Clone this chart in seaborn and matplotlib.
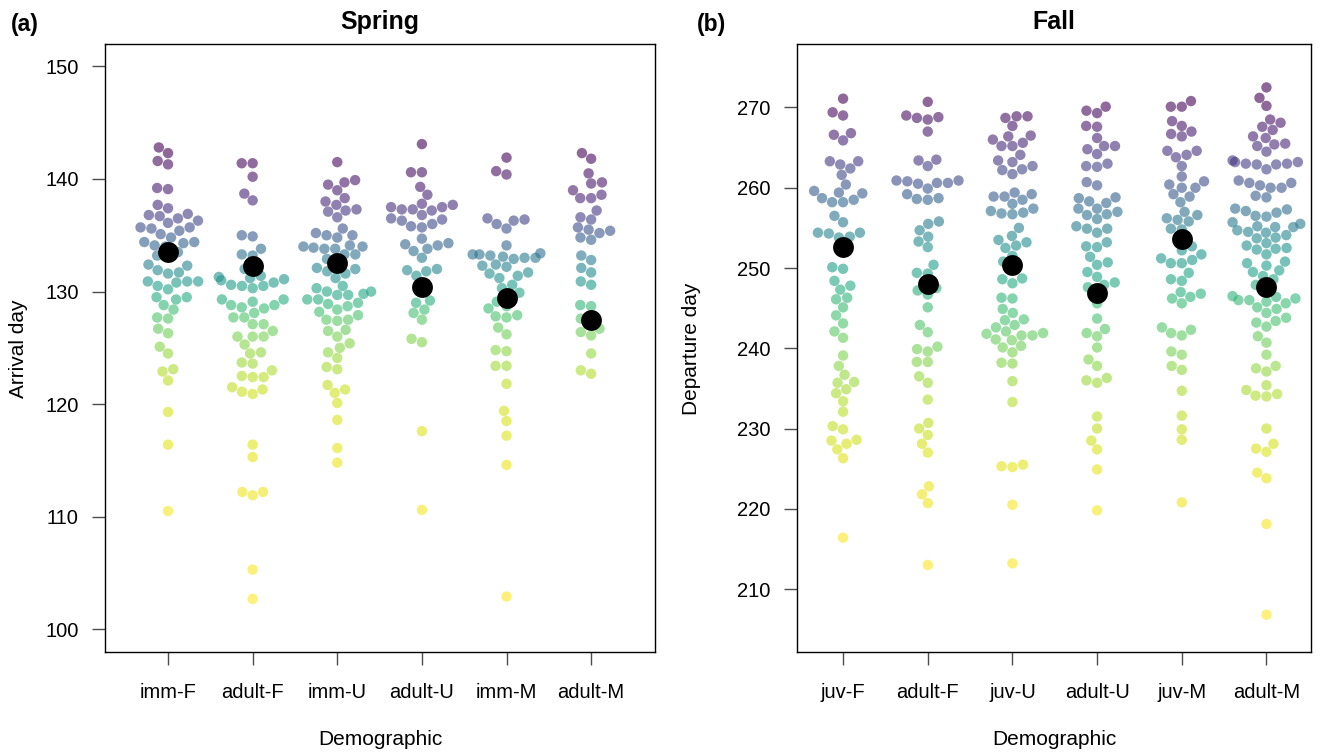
import numpy as np
import pandas as pd
import matplotlib.pyplot as plt
import seaborn as sns

# ---- data ----
spring_groups = ["imm-F", "adult-F", "imm-U", "adult-U", "imm-M", "adult-M"]
fall_groups = ["juv-F", "adult-F", "juv-U", "adult-U", "juv-M", "adult-M"]

spring_imm_F = [142.8, 142.3, 141.6, 141.3, 139.2, 139.1, 137.7, 137.4, 136.9, 136.7,
                136.5, 136.1, 136.3, 136.8, 135.7, 135.6, 135.4, 135.1, 135.7, 134.8,
                134.4, 134.4, 134.3, 134.0, 134.1, 133.5, 133.2, 133.1, 132.4, 132.3,
                131.9, 131.6, 131.7, 130.9, 130.9, 130.8, 130.2, 130.5, 130.9, 129.5,
                129.3, 129.5, 128.8, 128.4, 127.7, 127.6, 126.7, 126.3, 125.1, 124.5,
                123.1, 122.9, 122.1, 119.3, 116.4, 110.5]
spring_adult_F = [141.4, 141.4, 140.2, 138.7, 138.1, 134.9, 135.0, 133.8, 133.3, 133.2,
                  132.0, 131.4, 131.2, 131.3, 131.0, 130.6, 130.5, 130.3, 130.5, 130.8,
                  131.1, 129.3, 129.3, 129.1, 128.8, 128.6, 128.5, 128.8, 128.1, 127.7,
                  127.7, 127.1, 127.1, 126.5, 126.0, 126.0, 126.0, 125.3, 124.5, 124.6,
                  123.6, 123.7, 123.0, 122.5, 122.4, 122.4, 121.5, 121.3, 120.9, 121.1,
                  116.4, 115.3, 112.2, 112.2, 111.9, 105.3, 102.7]
spring_imm_U = [141.5, 139.9, 139.7, 139.0, 139.5, 138.3, 138.0, 137.7, 137.3, 137.2,
                137.1, 136.6, 135.6, 135.0, 134.8, 135.0, 135.2, 134.1, 134.0, 134.0,
                133.8, 133.9, 133.8, 133.3, 133.3, 132.9, 132.6, 132.0, 131.6, 131.8,
                132.1, 131.2, 130.5, 130.3, 130.0, 129.7, 129.7, 129.8, 130.0, 129.3,
                129.0, 129.3, 128.7, 128.9, 128.4, 128.2, 127.5, 127.4, 127.5, 127.9,
                126.6, 126.5, 126.0, 125.4, 125.0, 124.6, 124.1, 123.1, 123.3, 121.7,
                121.3, 121.0, 120.1, 118.6, 116.1, 114.8]
spring_adult_U = [143.1, 140.6, 140.6, 139.3, 138.6, 137.8, 137.5, 137.5, 137.3, 136.8,
                  137.2, 137.3, 137.7, 136.5, 136.4, 136.0, 135.7, 135.8, 136.3, 134.7,
                  134.3, 134.1, 133.8, 133.6, 134.2, 133.0, 132.0, 131.9, 131.8, 131.4,
                  130.6, 129.2, 129.0, 128.4, 128.1, 127.5, 125.5, 125.8, 117.6, 110.6]
spring_imm_M = [141.9, 140.4, 140.7, 136.5, 136.3, 136.0, 136.4, 135.6, 134.1, 133.4,
                133.2, 133.0, 133.0, 133.3, 132.9, 133.1, 133.3, 132.3, 132.2, 132.4,
                131.6, 131.7, 131.4, 131.2, 130.6, 130.3, 129.9, 129.6, 129.1, 128.7,
                128.5, 127.9, 127.7, 127.8, 126.8, 126.2, 124.7, 124.8, 123.4, 123.4,
                121.8, 119.4, 118.5, 117.2, 114.6, 102.9]
spring_adult_M = [142.3, 141.8, 140.5, 139.6, 139.7, 139.0, 138.6, 138.3, 138.3, 137.2,
                  136.6, 136.4, 135.7, 135.4, 135.2, 135.5, 134.6, 134.8, 133.2, 132.8,
                  132.1, 131.7, 130.9, 130.6, 128.7, 128.8, 127.6, 126.7, 127.3, 126.4,
                  126.1, 124.5, 122.7, 123.0]
spring_means = [133.5, 132.3, 132.5, 130.4, 129.4, 127.5]

fall_juv_F = [271.1, 269.0, 269.4, 266.8, 266.6, 265.9, 263.3, 262.4, 262.9, 263.3,
              261.6, 260.4, 259.4, 259.3, 258.5, 258.2, 258.2, 258.7, 259.6, 256.5,
              255.7, 254.4, 254.3, 253.9, 253.8, 254.4, 252.6, 249.9, 250.1, 248.4,
              247.8, 247.3, 246.3, 246.1, 245.1, 244.1, 243.1, 242.1, 241.3, 239.1,
              237.8, 236.7, 235.8, 235.7, 234.9, 234.4, 233.4, 232.1, 230.3, 229.9,
              228.6, 228.1, 228.5, 227.4, 226.3, 216.4]
fall_adult_F = [270.7, 268.8, 268.5, 268.7, 269.0, 267.0, 263.5, 262.7, 263.4, 260.9,
                260.6, 260.6, 259.9, 260.5, 260.8, 260.9, 258.7, 258.5, 258.6, 259.2,
                255.8, 255.5, 254.7, 253.9, 253.3, 252.6, 250.4, 249.4, 249.3, 248.0,
                247.5, 247.2, 246.7, 245.1, 242.9, 242.0, 240.2, 239.9, 239.6, 238.3,
                238.3, 236.5, 235.7, 233.6, 230.7, 230.0, 229.2, 228.1, 227.0, 222.8,
                221.8, 220.7, 213.0]
fall_juv_U = [268.9, 268.9, 268.7, 267.7, 266.5, 266.4, 265.6, 265.2, 265.2, 266.0,
              264.1, 263.2, 263.4, 262.7, 262.3, 262.2, 261.7, 259.2, 258.9, 258.9,
              259.4, 258.5, 258.0, 257.4, 256.9, 256.7, 256.8, 257.1, 255.0, 254.0,
              253.2, 252.5, 252.8, 253.5, 251.5, 250.1, 250.8, 248.7, 248.1, 248.6,
              246.2, 246.3, 244.9, 244.4, 243.6, 243.5, 242.9, 242.1, 241.8, 241.6,
              241.6, 241.0, 241.1, 241.9, 242.6, 240.3, 240.1, 239.5, 238.2, 238.1,
              235.9, 233.3, 225.5, 225.2, 225.3, 220.5, 213.2]
fall_adult_U = [270.1, 269.3, 269.6, 267.6, 267.7, 266.2, 265.2, 265.2, 264.2, 264.8,
                263.0, 262.6, 262.7, 260.3, 260.7, 258.7, 258.1, 257.4, 258.3, 258.8,
                257.0, 256.7, 256.1, 256.6, 257.4, 255.2, 254.9, 254.4, 254.9, 253.2,
                252.6, 252.7, 251.4, 250.7, 250.4, 249.5, 248.9, 247.9, 248.2, 247.6,
                246.9, 245.6, 243.7, 242.4, 241.9, 241.5, 240.1, 238.6, 237.8, 236.3,
                235.7, 236.0, 231.5, 230.0, 228.5, 227.4, 224.9, 219.8]
fall_juv_M = [270.8, 270.1, 270.1, 268.3, 267.7, 267.0, 266.4, 266.7, 264.6, 264.1,
              263.8, 264.6, 262.7, 261.4, 260.8, 260.4, 260.0, 260.0, 259.2, 258.9,
              258.2, 257.0, 256.6, 255.8, 256.0, 256.2, 254.9, 254.8, 252.7, 252.2,
              251.7, 251.2, 250.6, 250.6, 251.0, 249.4, 248.4, 248.6, 247.0, 246.8,
              246.4, 245.6, 246.2, 242.6, 242.3, 241.6, 241.9, 239.2, 239.6, 237.3,
              237.8, 234.7, 231.6, 229.9, 228.6, 220.8]
fall_adult_M = [272.5, 271.2, 270.2, 268.5, 268.1, 267.6, 267.2, 266.4, 266.2, 265.5,
                265.4, 265.2, 264.5, 263.4, 263.2, 263.0, 262.9, 262.3, 262.9, 263.0,
                263.2, 260.6, 260.0, 260.0, 260.3, 260.6, 260.9, 258.8, 259.0, 257.4,
                256.5, 256.9, 256.4, 257.1, 257.3, 255.2, 254.5, 255.5, 255.1, 255.1,
                255.7, 254.4, 254.7, 254.1, 253.7, 253.8, 252.8, 252.4, 252.3, 252.5,
                253.1, 251.7, 250.8, 250.3, 250.6, 249.7, 249.5, 249.0, 248.6, 247.9,
                247.6, 246.5, 246.2, 245.6, 245.1, 245.8, 246.0, 246.0, 246.4, 244.9,
                244.4, 243.8, 243.4, 242.7, 243.2, 241.5, 240.7, 239.2, 237.8, 237.1,
                237.5, 235.4, 234.3, 234.0, 234.1, 234.8, 230.0, 228.1, 227.1, 227.5,
                224.5, 223.8, 218.1, 206.8]
fall_means = [252.6, 248.0, 250.4, 246.9, 253.6, 247.6]

spring_values = [spring_imm_F, spring_adult_F, spring_imm_U,
                 spring_adult_U, spring_imm_M, spring_adult_M]
fall_values = [fall_juv_F, fall_adult_F, fall_juv_U,
               fall_adult_U, fall_juv_M, fall_adult_M]


def long_table(groups, values):
    rows = []
    for g, vals in zip(groups, values):
        for v in vals:
            rows.append((g, v))
    df = pd.DataFrame(rows, columns=["group", "day"])
    # colour follows the rank of the day within the season
    df["shade"] = df["day"].rank(pct=True)
    return df


sns.set_style("ticks")
plt.rcParams["font.family"] = ["Liberation Sans", "DejaVu Sans"]
plt.rcParams["text.color"] = "black"
plt.rcParams["axes.labelcolor"] = "black"

fig = plt.figure(figsize=(13.29, 7.54), dpi=100)
ax1 = fig.add_axes([0.079, 0.135, 0.414, 0.806])
ax2 = fig.add_axes([0.5997, 0.135, 0.387, 0.806])


def draw_panel(ax, groups, values, means, title, ylabel, ylim, xlim, yticks, ylab_x):
    df = long_table(groups, values)
    sns.swarmplot(data=df, x="group", y="day", hue="shade", order=groups,
                  palette="viridis_r", hue_norm=(0, 1), size=7.5, alpha=0.6,
                  linewidth=0, warn_thresh=1, legend=False, ax=ax)
    mean_df = pd.DataFrame({"group": groups, "day": means})
    sns.stripplot(data=mean_df, x="group", y="day", order=groups, jitter=False,
                  color="black", size=15, linewidth=0, zorder=5, ax=ax)
    ax.set_ylim(*ylim)
    ax.set_xlim(*xlim)
    ax.set_yticks(yticks)
    ax.set_title(title, fontsize=18, fontweight="bold", pad=11)
    ax.set_xlabel("Demographic", fontsize=15)
    ax.set_ylabel(ylabel, fontsize=15)
    ax.xaxis.set_label_coords(0.5, -0.128)
    ax.yaxis.set_label_coords(ylab_x, 0.5)
    ax.tick_params(axis="x", length=9.4, width=1, pad=13, labelsize=14.5,
                   color="#4d4d4d", labelcolor="black")
    ax.tick_params(axis="y", length=9.4, width=1, pad=9.5, labelsize=14.5,
                   color="#4d4d4d", labelcolor="black")
    for sp in ax.spines.values():
        sp.set_color("black")
        sp.set_linewidth(1)


draw_panel(ax1, spring_groups, spring_values, spring_means, "Spring", "Arrival day",
           (97.96, 151.95), (-0.745, 5.757), [100, 110, 120, 130, 140, 150], -0.14)
draw_panel(ax2, fall_groups, fall_values, fall_means, "Fall", "Departure day",
           (202.13, 277.85), (-0.544, 5.53), [210, 220, 230, 240, 250, 260, 270], -0.187)

fig.text(0.008, 0.968, "(a)", fontsize=16.5, fontweight="bold", va="center")
fig.text(0.524, 0.968, "(b)", fontsize=16.5, fontweight="bold", va="center")

fig.savefig("out.png", dpi=100)
